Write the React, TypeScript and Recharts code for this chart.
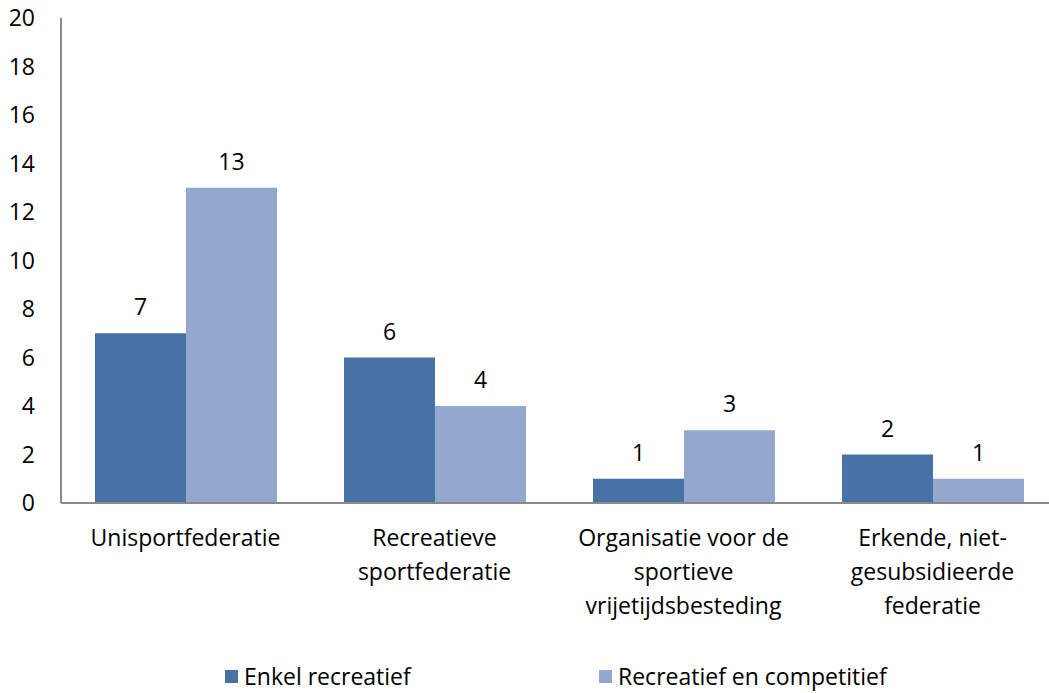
import { Bar, BarChart, LabelList, Legend, XAxis, YAxis } from "recharts";

const categories = [
  "Unisportfederatie",
  "Recreatieve\nsportfederatie",
  "Organisatie voor de\nsportieve\nvrijetijdsbesteding",
  "Erkende, niet-\ngesubsidieerde\nfederatie",
];
const enkelRecreatief = [7, 6, 1, 2];
const recreatiefCompetitief = [13, 4, 3, 1];
const yTicks = [0, 2, 4, 6, 8, 10, 12, 14, 16, 18, 20];

const DARK = "#4672a6";
const LIGHT = "#94a8cf";
const AXIS = "#898989";
const FONT = "'Open Sans', sans-serif";
const FS = 23;

const data = categories.map((name, i) => ({
  name,
  enkel: enkelRecreatief[i],
  comp: recreatiefCompetitief[i],
}));

function CategoryTick(props: any) {
  const { x, y, payload } = props;
  const lines = String(payload.value).split("\n");
  return (
    <text x={x} y={y} textAnchor="middle" fill="#000" fontSize={FS} fontFamily={FONT}>
      {lines.map((l, i) => (
        <tspan key={i} x={x} dy={i === 0 ? 41 : 34}>
          {l}
        </tspan>
      ))}
    </text>
  );
}

function LegendBox() {
  const items = [
    { label: "Enkel recreatief", color: DARK, left: 225 },
    { label: "Recreatief en competitief", color: LIGHT, left: 599 },
  ];
  return (
    <div style={{ position: "relative", height: 40, fontFamily: FONT, fontSize: FS, lineHeight: "24px" }}>
      {items.map((it) => (
        <div
          key={it.label}
          style={{ position: "absolute", left: it.left, top: 11, display: "flex", alignItems: "center", height: 24 }}
        >
          <span style={{ width: 13, height: 13, background: it.color, display: "inline-block", marginRight: 6 }} />
          <span style={{ color: "#000", whiteSpace: "nowrap" }}>{it.label}</span>
        </div>
      ))}
    </div>
  );
}

export default function App() {
  return (
    <div style={{ position: "absolute", top: 0, left: 0, width: 1049, height: 693, overflow: "hidden", background: "#fff" }}>
      <BarChart
        width={1060}
        height={693}
        data={data}
        margin={{ top: 18, right: 3, bottom: 0, left: 0 }}
        barCategoryGap={34}
        barGap={0}
      >
        <YAxis
          width={61}
          domain={[0, 20]}
          ticks={yTicks}
          interval={0}
          tickLine={false}
          tickSize={0}
          tickMargin={26}
          axisLine={{ stroke: AXIS, strokeWidth: 2 }}
          tick={{ fill: "#000", fontSize: FS, fontFamily: FONT }}
        />
        <XAxis
          dataKey="name"
          height={150}
          interval={0}
          tickLine={false}
          tickSize={0}
          axisLine={{ stroke: AXIS, strokeWidth: 2 }}
          tick={<CategoryTick />}
        />
        <Legend
          verticalAlign="bottom"
          content={<LegendBox />}
          wrapperStyle={{ left: 0, bottom: 0, width: 1049, height: 40 }}
        />
        <Bar dataKey="enkel" name="Enkel recreatief" fill={DARK} isAnimationActive={false}>
          <LabelList dataKey="enkel" position="top" offset={18} fill="#000" fontSize={FS} fontFamily={FONT} />
        </Bar>
        <Bar dataKey="comp" name="Recreatief en competitief" fill={LIGHT} isAnimationActive={false}>
          <LabelList dataKey="comp" position="top" offset={18} fill="#000" fontSize={FS} fontFamily={FONT} />
        </Bar>
      </BarChart>
    </div>
  );
}
